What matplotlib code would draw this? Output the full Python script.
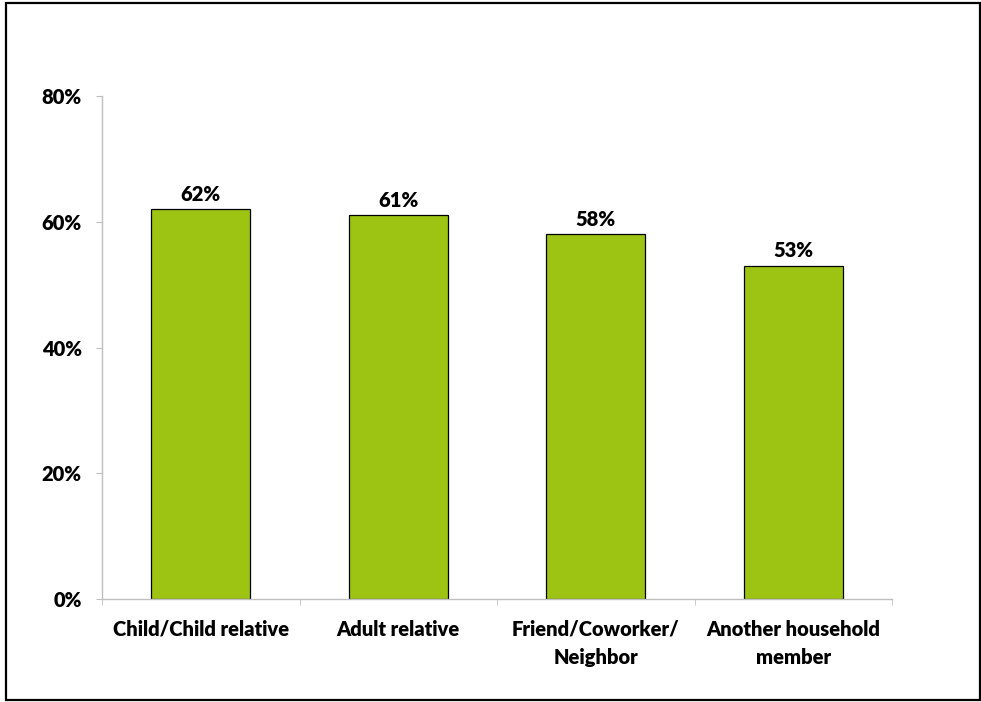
import matplotlib.pyplot as plt
from matplotlib.patches import Rectangle
import numpy as np

categories = ["Child/Child relative", "Adult relative", "Friend/Coworker/\nNeighbor", "Another household\nmember"]
values = [62, 61, 58, 53]
yticks = [0, 20, 40, 60, 80]

plt.rcParams['font.family'] = ['Lato', 'DejaVu Sans']
plt.rcParams['font.weight'] = 'heavy'

fs = 14.5
fig = plt.figure(figsize=(9.81, 7.02), dpi=100)
ax = fig.add_axes([102/981, 1 - 599/702, 790/981, 503/702])

x = np.arange(len(categories))
bars = ax.bar(x, values, width=0.5, color='#9DC413', edgecolor='black', linewidth=0.9)
for b, v in zip(bars, values):
    ax.text(b.get_x() + b.get_width()/2, v + 0.9, f"{v}%", ha='center', va='bottom',
            fontsize=fs, fontweight='heavy')

ax.set_xlim(-0.5, len(categories) - 0.5)
ax.set_ylim(0, 80)
ax.set_yticks(yticks)
ax.set_yticklabels([f"{t}%" for t in yticks], fontsize=fs, fontweight='heavy')
ax.set_xticks(x)
ax.set_xticklabels(categories, fontsize=fs, fontweight='heavy', linespacing=1.6)
ax.set_xticks(np.arange(len(categories) + 1) - 0.5, minor=True)
ax.tick_params(axis='x', which='major', length=0, pad=15)
ax.tick_params(axis='x', which='minor', length=4.5, color='#BFBFBF', direction='out')
ax.tick_params(axis='y', length=4.5, color='#BFBFBF', direction='out', pad=10)

for s in ['top', 'right']:
    ax.spines[s].set_visible(False)
for s in ['left', 'bottom']:
    ax.spines[s].set_color('#BFBFBF')
    ax.spines[s].set_linewidth(1.0)

fig.patches.append(Rectangle((6/981, 2/702), 974/981, 697/702, transform=fig.transFigure,
                             fill=False, edgecolor='black', linewidth=1.6))

fig.savefig('out.png', dpi=100)
